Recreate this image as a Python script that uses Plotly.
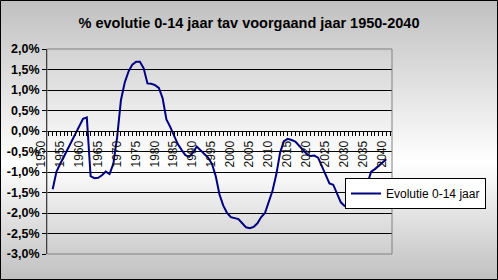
import base64
import plotly.graph_objects as go

# ---- data ----
years = list(range(1951, 2040))
values = [
    -1.42, -0.99, -0.80, -0.62, -0.45, -0.24, -0.08, 0.12, 0.30, 0.33,   # 1951-1960
    -1.10, -1.15, -1.14, -1.08, -0.99, -1.05, -0.80, -0.15, 0.75, 1.18,  # 1961-1970
    1.45, 1.62, 1.69, 1.69, 1.53, 1.16, 1.15, 1.12, 1.05, 0.80,          # 1971-1980
    0.28, 0.10, -0.12, -0.32, -0.46, -0.59, -0.63, -0.53, -0.38, -0.46,  # 1981-1990
    -0.56, -0.65, -0.80, -1.10, -1.55, -1.82, -2.00, -2.10, -2.13, -2.15,  # 1991-2000
    -2.25, -2.35, -2.37, -2.34, -2.25, -2.10, -2.00, -1.75, -1.45, -1.05,  # 2001-2010
    -0.52, -0.25, -0.19, -0.22, -0.26, -0.36, -0.47, -0.56, -0.61, -0.60,  # 2011-2020
    -0.65, -0.85, -1.05, -1.28, -1.31, -1.52, -1.74, -1.83, -1.83, -1.62,  # 2021-2030
    -1.55, -1.48, -1.40, -1.28, -0.99, -0.93, -0.85, -0.77, -0.69,        # 2031-2039
]
series_name = "Evolutie 0-14 jaar"
title_text = "% evolutie 0-14 jaar tav voorgaand jaar 1950-2040"
x_tick_years = list(range(1950, 2041, 5))
y_tick_vals = [-3.0, -2.5, -2.0, -1.5, -1.0, -0.5, 0.0, 0.5, 1.0, 1.5, 2.0]
y_tick_text = ["-3,0%", "-2,5%", "-2,0%", "-1,5%", "-1,0%", "-0,5%",
               "0,0%", "0,5%", "1,0%", "1,5%", "2,0%"]

W, H = 498, 280
L, R, T, B = 47, 106, 49, 26
PW, PH = W - L - R, H - T - B
FONT = "Liberation Sans, Arial, sans-serif"

svg = (
    '<svg xmlns="http://www.w3.org/2000/svg" width="498" height="280" '
    'preserveAspectRatio="none"><defs><linearGradient id="g" x1="0" y1="0" x2="0" y2="1">'
    '<stop offset="0" stop-color="#C0C0C0"/><stop offset="0.58" stop-color="#FFFFFF"/>'
    '<stop offset="1" stop-color="#C0C0C0"/></linearGradient></defs>'
    '<rect width="498" height="280" fill="url(#g)"/></svg>'
)
svg_uri = "data:image/svg+xml;base64," + base64.b64encode(svg.encode()).decode()


def px_x(p):
    return (p - L) / PW


def px_y(p):
    return (H - B - p) / PH


fig = go.Figure()
fig.add_trace(go.Scatter(
    x=years, y=values, mode="lines", name=series_name,
    line=dict(color="#000080", width=2), showlegend=True,
))

fig.update_layout(
    width=W, height=H,
    margin=dict(l=L, r=R, t=T, b=B, pad=0, autoexpand=False),
    paper_bgcolor="#D8D8D8",
    plot_bgcolor="#C0C0C0",
    font=dict(family=FONT, color="black", size=11),
    title=dict(text="<b>" + title_text + "</b>", x=0.5, xref="container",
               xanchor="center", y=1 - 23 / H, yanchor="middle",
               font=dict(family=FONT, size=14.5, color="black")),
    showlegend=True,
    legend=dict(x=px_x(345), y=px_y(178), xanchor="left", yanchor="top",
                bgcolor="white", bordercolor="black", borderwidth=1,
                font=dict(family=FONT, size=12, color="black"),
                itemwidth=30, tracegroupgap=0),
    xaxis=dict(
        range=[1949.5, 2040.5], anchor="free", position=0.6, automargin=False,
        tickmode="array", tickvals=x_tick_years,
        ticktext=[str(y) for y in x_tick_years],
        tickangle=-90, tickfont=dict(size=12, color="#111111"),
        ticks="outside", ticklen=4, tickcolor="black", tickwidth=1,
        ticklabelshift=-8,
        showline=True, linecolor="black", linewidth=1,
        showgrid=False, zeroline=False,
        minor=dict(dtick=1, tick0=1950, ticks="outside", ticklen=4,
                   tickcolor="black", tickwidth=1, showgrid=False),
    ),
    yaxis=dict(
        range=[-3, 2], tickmode="array", tickvals=y_tick_vals, automargin=False,
        ticktext=["<b>" + t + "</b>" for t in y_tick_text],
        tickfont=dict(size=12.5, color="black"),
        ticks="outside", ticklen=4, tickcolor="black",
        showline=True, linecolor="black", linewidth=1,
        showgrid=True, gridcolor="black", gridwidth=1,
        zeroline=False,
    ),
    images=[dict(source=svg_uri, xref="paper", yref="paper",
                 x=px_x(0), y=px_y(0), sizex=W / PW, sizey=H / PH,
                 xanchor="left", yanchor="top", sizing="stretch",
                 layer="below")],
    shapes=[
        dict(type="rect", xref="paper", yref="paper", x0=0, x1=1, y0=0, y1=1,
             line=dict(color="#808080", width=1), layer="above"),
        dict(type="rect", xref="paper", yref="paper",
             x0=px_x(0.5), x1=px_x(W - 0.5), y0=px_y(H - 0.5), y1=px_y(0.5),
             line=dict(color="black", width=1), layer="above"),
    ],
)

fig.write_html("out.html")
